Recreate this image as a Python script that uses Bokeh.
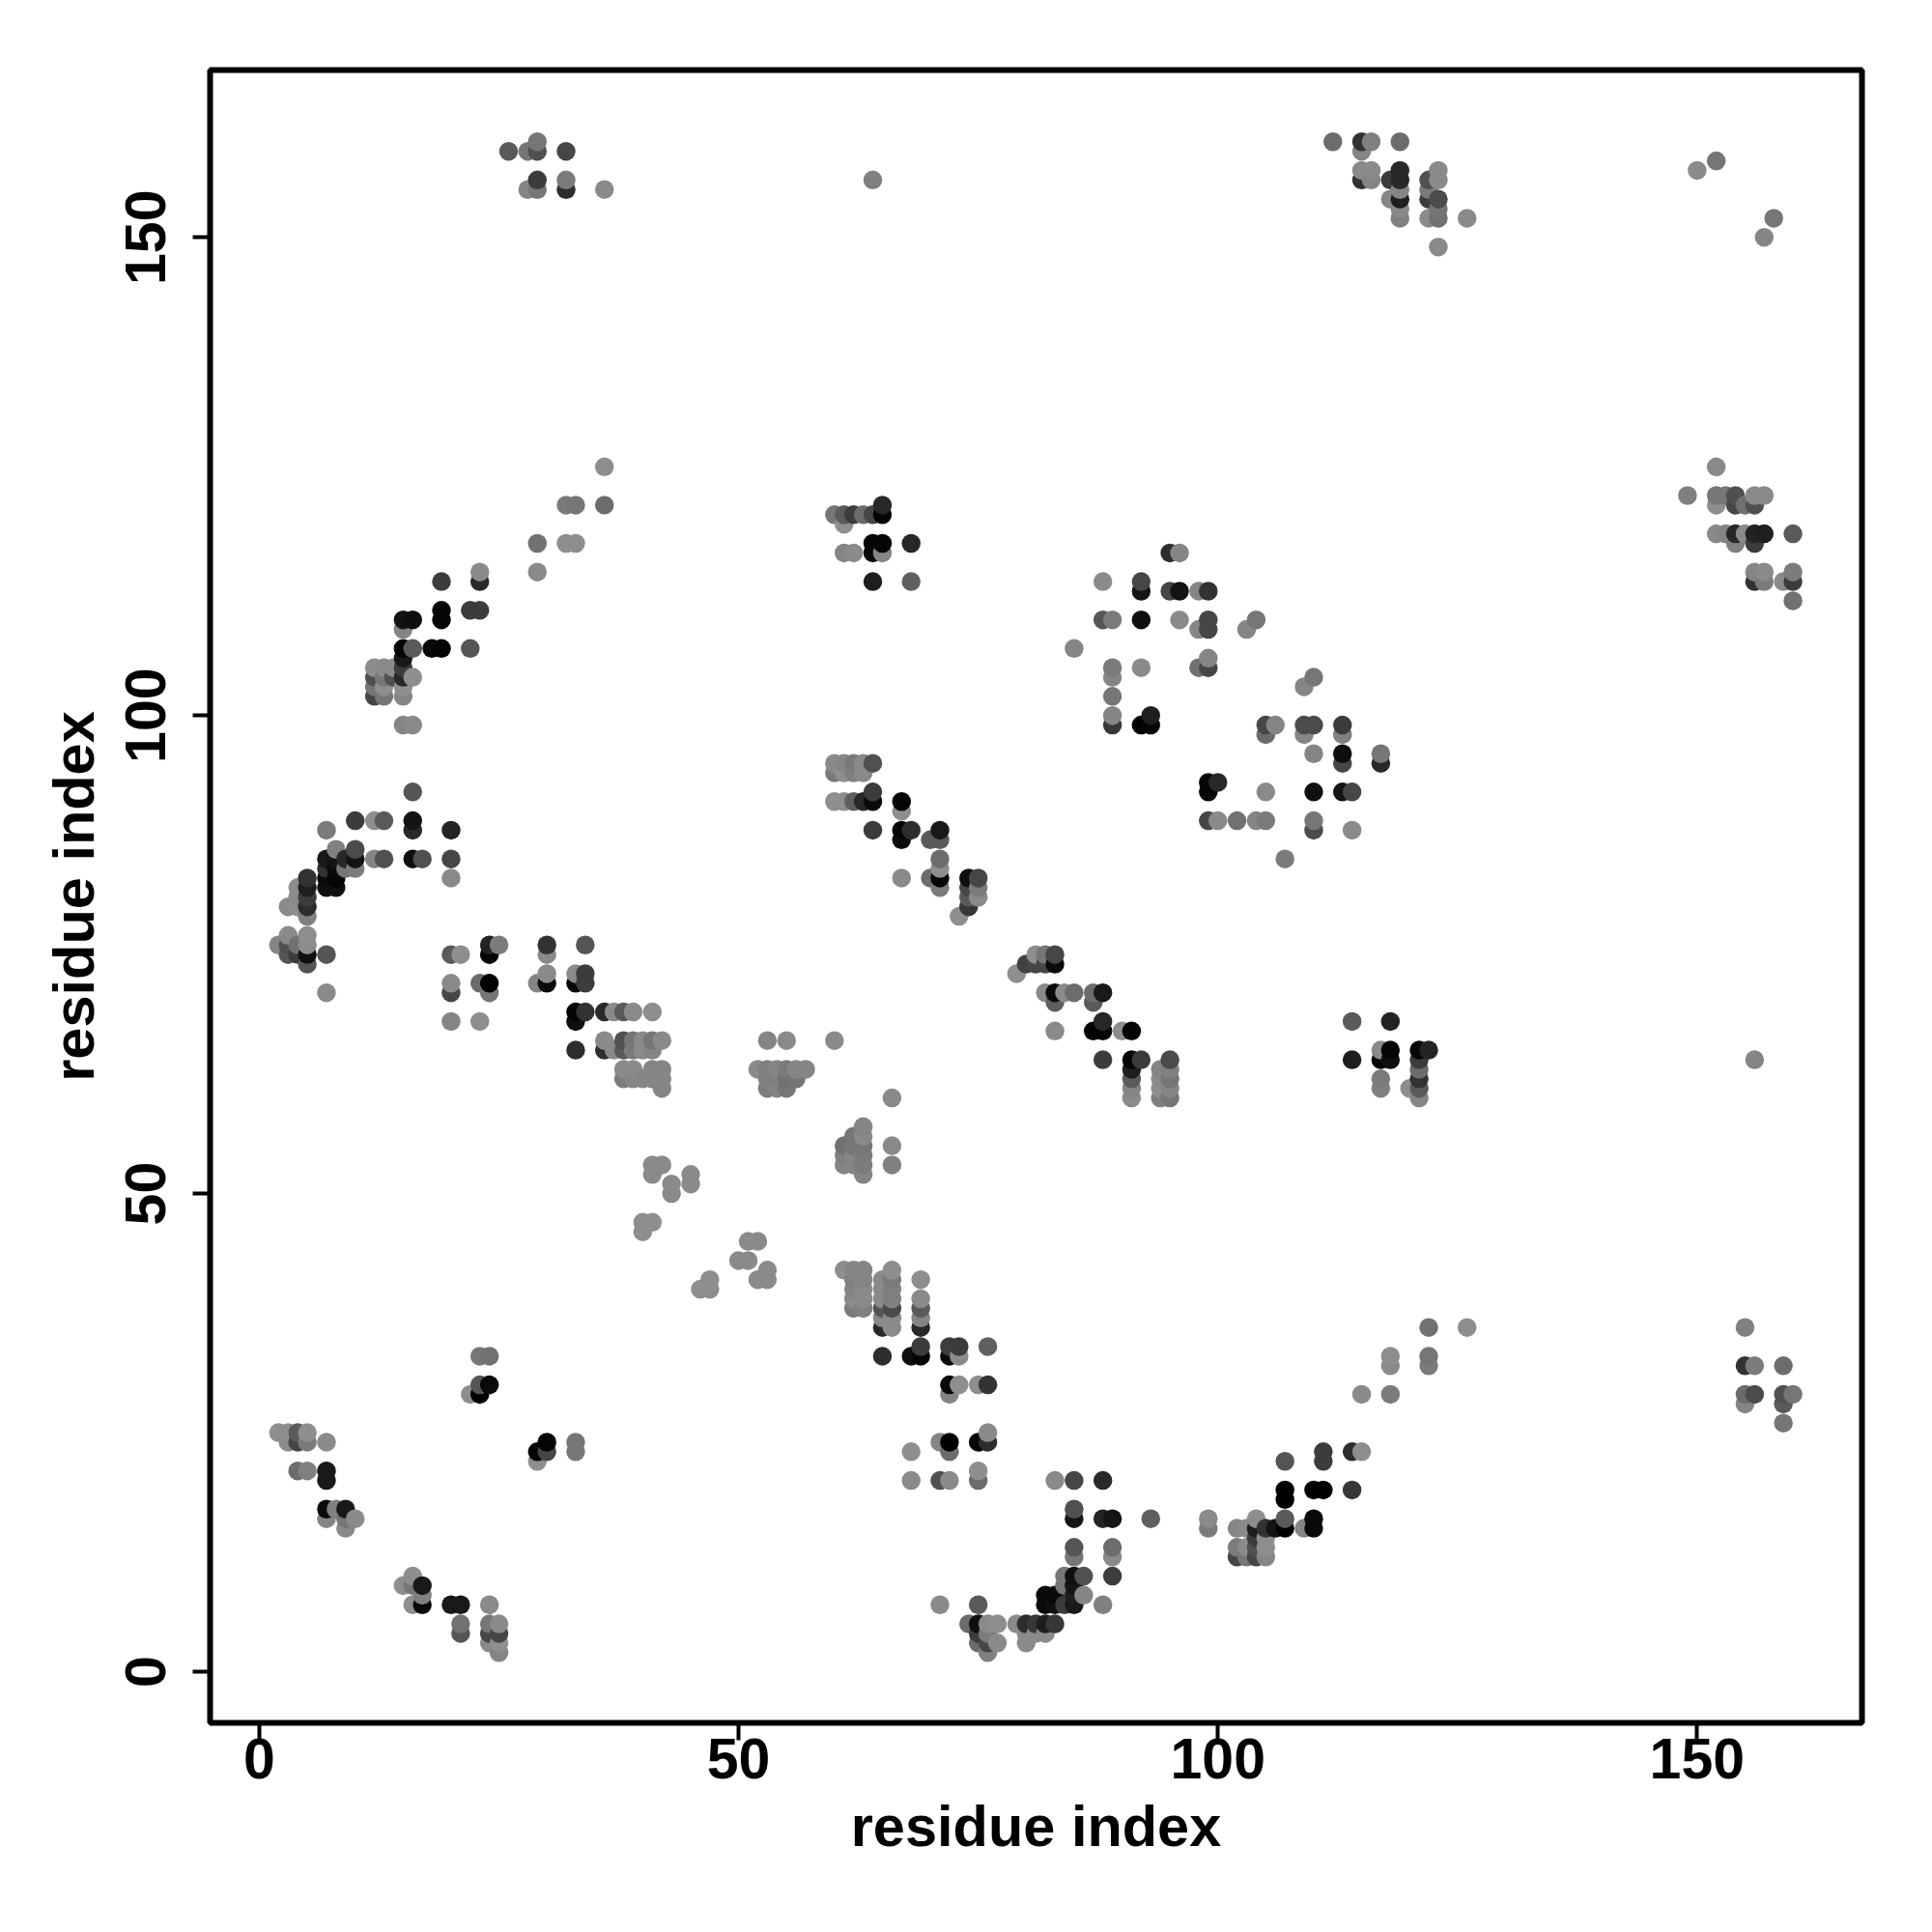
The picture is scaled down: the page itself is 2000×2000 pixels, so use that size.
from bokeh.plotting import figure
from bokeh.models import ColumnDataSource, Range1d, FixedTicker
from bokeh.embed import file_html
from bokeh.resources import INLINE

AXIS_LABEL = "residue index"
TICKS = [0, 50, 100, 150]

# contacts as (residue i, residue j, grey level), by region of the map
south_west = [
 (2,25,140),(3,25,135),(4,25,90),(5,25,135),(3,24,130),(4,24,70),(5,24,115),(7,24,130),
 (4,21,100),(5,21,120),(7,21,25),(7,20,25),(7,17,10),(8,17,120),(9,17,25),(7,16,125),(9,16,110),(10,16,130),(9,15,130),
 (16,10,140),(15,9,140),(16,9,110),(17,9,25),(17,8,120),(16,7,135),(17,7,10),(20,7,25),(21,7,25),(24,7,130),
 (21,5,105),(24,5,110),(25,5,130),(21,4,85),(24,4,70),(25,4,70),(24,3,130),(25,3,135),(25,2,125),
 (23,33,110),(24,33,105),(23,30,85),(24,30,10),(22,29,135),(23,29,0),
 (30,24,5),(33,24,110),(29,23,5),(30,23,70),(33,23,110),(29,22,135),
 (40,47,135),(41,47,135),(40,46,135),(47,41,135),(46,40,135),(47,40,135),
 (51,45,130),(52,45,130),(50,43,130),(51,43,130),(53,42,130),(52,41,130),(53,41,130),
]
south_mid = [
 (61,42,135),(62,42,125),(63,42,125),(62,41,120),(63,41,125),(62,40,125),(63,40,130),(62,39,130),(63,39,130),(62,38,115),(63,38,120),
 (65,41,130),(65,40,130),(65,39,130),(65,38,85),(65,37,130),(65,36,40),
 (66,42,135),(66,41,115),(66,40,120),(66,39,120),(66,38,75),(66,37,130),(66,36,130),
 (69,41,135),(69,39,130),(69,38,90),(69,37,125),(69,36,40),
 (69,34,60),(72,34,60),(73,34,60),(76,34,95),(65,33,45),(68,33,15),(69,33,5),(72,33,10),(73,33,130),
 (72,30,10),(73,30,135),(75,30,140),(76,30,50),(72,29,125),
 (71,24,125),(72,24,0),(75,24,5),(76,24,45),(76,25,130),(68,23,135),(72,23,100),
 (68,20,130),(71,20,80),(72,20,130),(75,20,100),(75,21,135),
 (83,20,130),(85,20,70),(88,20,40),(85,17,80),(85,16,20),(88,16,35),(89,16,20),(93,16,95),
 (85,13,85),(89,13,100),(85,12,110),(89,12,130),(84,10,110),(85,10,15),(86,10,80),(89,10,60),(84,9,110),(85,9,20),
 (82,8,10),(83,8,10),(85,8,30),(86,8,125),(82,7,10),(83,7,15),(84,7,60),(85,7,25),(88,7,120),(71,7,130),(75,7,90),
 (74,5,100),(75,5,15),(76,5,130),(77,5,135),(79,5,130),(80,5,45),(81,5,55),(82,5,30),(83,5,55),
 (75,4,60),(76,4,115),(80,4,130),(81,4,130),(82,4,130),(75,3,100),(76,3,70),(77,3,130),(80,3,130),(76,2,120),
]
south_east = [
 (122,36,105),(126,36,135),(155,36,120),(118,33,135),(122,33,110),(118,32,130),(122,32,115),(155,32,50),(156,32,115),(159,32,100),
 (115,29,130),(118,29,115),(155,29,100),(156,29,75),(159,29,80),(160,29,110),(155,28,125),(159,28,90),(159,26,110),
 (111,23,60),(114,23,45),(115,23,135),(107,22,85),(111,22,60),(107,19,0),(110,19,0),(111,19,0),(114,19,55),(107,18,0),
 (99,16,130),(104,16,135),(107,16,90),(110,16,10),(99,15,115),(102,15,125),(103,15,130),(104,15,30),(105,15,50),(106,15,20),(107,15,0),(109,15,125),(110,15,10),
 (104,14,60),(105,14,135),(102,13,115),(103,13,130),(104,13,80),(105,13,135),(102,12,70),(103,12,110),(104,12,70),(105,12,125),
]
west_mid = [
 (16,92,85),(10,89,60),(12,89,140),(13,89,90),(16,89,20),(7,88,115),(16,88,40),(20,88,35),(8,86,120),(10,86,75),
 (7,85,25),(8,85,20),(9,85,40),(10,85,20),(12,85,125),(13,85,80),(16,85,15),(17,85,80),(20,85,70),
 (7,84,50),(8,84,10),(9,84,110),(10,84,115),(7,83,10),(8,83,5),(20,83,130),(7,82,15),(8,82,15),
 (5,83,50),(5,82,30),(5,81,60),(5,80,45),(5,79,120),(4,82,135),(4,81,130),(3,80,130),(4,80,135),
 (3,77,130),(5,77,135),(2,76,125),(3,76,80),(4,76,105),(5,76,130),(3,75,85),(4,75,60),(5,75,15),(7,75,85),(5,74,85),(7,71,130),
 (24,76,35),(25,76,115),(30,76,50),(34,76,85),(20,75,90),(21,75,135),(24,75,5),(30,75,130),
 (20,72,130),(23,72,100),(24,72,0),(29,72,125),(30,72,10),(33,72,5),(34,72,60),(30,73,130),(33,73,130),(34,73,60),(20,71,70),(24,71,110),
 (33,69,5),(34,69,50),(36,69,40),(37,69,130),(38,69,90),(39,69,130),(41,69,135),(20,68,125),(23,68,135),(33,68,15),
]
centre = [
 (36,66,130),(38,66,80),(39,66,110),(40,66,130),(41,66,110),(42,66,130),(53,66,125),(55,66,130),(60,66,130),
 (33,65,45),(36,65,45),(37,65,130),(38,65,90),(39,65,115),(40,65,130),(41,65,125),
 (38,63,130),(39,63,130),(41,63,125),(42,63,125),(52,63,130),(53,63,120),(54,63,125),(55,63,115),(56,63,125),(57,63,125),
 (38,62,115),(39,62,125),(40,62,125),(41,62,125),(42,62,125),(53,62,120),(54,62,120),(55,62,105),(56,62,110),
 (42,61,125),(53,61,115),(54,61,125),(55,61,110),
 (66,60,130),(63,57,125),(62,56,110),(63,56,130),(61,55,105),(62,55,110),(63,55,110),(66,55,130),
 (61,54,120),(62,54,125),(63,54,115),(61,53,125),(62,53,125),(63,53,115),(66,53,120),(63,52,125),
 (41,53,130),(42,53,130),(41,52,130),(45,52,130),(45,51,130),(43,51,130),(43,50,130),
]
diagonal = [
 (60,95,130),(61,95,125),(62,95,115),(63,95,130),(64,95,80),(60,94,115),(61,94,135),(62,94,120),(63,94,130),(64,92,60),
 (60,91,135),(61,91,135),(62,91,95),(63,91,40),(64,91,10),(67,91,5),(67,90,135),
 (64,88,60),(67,88,5),(68,88,45),(71,88,25),(67,87,10),(70,87,90),(71,87,90),(71,85,100),(71,84,135),
 (67,83,130),(70,83,100),(71,83,5),(74,83,15),(75,83,70),(71,82,115),(74,82,70),(75,82,115),(74,81,90),(75,81,130),(74,80,55),(73,79,135),
 (99,93,5),(100,93,40),(99,92,5),(99,89,70),(100,89,130),
 (81,75,135),(82,75,110),(83,75,70),(80,74,65),(81,74,70),(82,74,70),(83,74,10),(79,73,135),
 (82,71,130),(83,71,10),(84,71,130),(85,71,100),(87,71,100),(88,71,25),(83,70,95),(87,70,90),(88,68,40),
 (83,67,130),(87,67,5),(88,67,5),(90,67,135),(91,67,5),(88,64,60),(91,64,5),(92,64,60),(95,64,75),
 (91,63,30),(94,63,125),(95,63,120),(91,62,90),(94,62,130),(95,62,110),(91,61,125),(94,61,135),(95,61,125),(91,60,130),(94,60,120),(95,60,110),
 (114,68,90),(118,68,35),(117,65,130),(118,65,5),(121,65,5),(122,65,35),(114,64,30),(117,64,5),(118,64,15),(121,64,60),(156,64,125),
 (121,63,100),(117,62,115),(121,62,50),(117,61,120),(120,61,135),(121,61,90),(121,60,125),
]
north_west = [
 (36,126,135),(32,122,115),(33,122,110),(36,122,100),(29,118,105),(32,118,135),(33,118,135),(29,115,130),(23,115,130),(19,114,60),(23,114,40),
 (19,111,5),(22,111,60),(23,111,60),(15,110,20),(16,110,15),(19,110,5),(15,109,125),(15,107,5),(16,107,90),(18,107,10),(19,107,5),(22,107,85),(15,106,25),
 (12,105,135),(13,105,130),(14,105,130),(15,105,60),(12,104,80),(13,104,110),(14,104,80),(15,104,40),(16,104,135),
 (12,103,110),(13,103,135),(15,103,135),(12,102,70),(13,102,110),(15,102,125),(15,99,125),(16,99,130),
]
north_mid = [
 (65,122,40),(60,121,110),(61,121,90),(62,121,60),(63,121,100),(64,121,70),(65,121,5),(61,120,135),
 (64,118,5),(65,118,5),(68,118,40),(61,117,125),(62,117,130),(64,117,10),(65,117,125),(64,114,30),(68,114,95),
 (95,117,45),(96,117,125),(88,114,130),(92,114,70),(92,113,20),(95,113,70),(96,113,20),(98,113,125),(99,113,50),
 (88,110,85),(89,110,115),(92,110,15),(96,110,130),(99,110,70),(104,110,110),(98,109,125),(99,109,70),(103,109,125),(85,107,125),
 (99,106,125),(89,105,115),(92,105,130),(98,105,105),(99,105,70),(89,104,125),(110,104,110),(109,103,125),(89,102,110),
 (89,100,125),(93,100,30),(89,99,55),(92,99,0),(93,99,5),(105,99,70),(106,99,125),(109,99,75),(110,99,75),(113,99,60),
 (105,98,100),(109,98,125),(113,98,120),(110,96,125),(113,96,15),(117,96,110),(113,95,70),(117,95,40),
 (105,92,130),(110,92,15),(113,92,20),(114,92,70),(102,89,105),(104,89,125),(105,89,115),(110,89,110),(110,88,75),(114,88,130),(107,85,115),
]
north_east = [
 (152,126,130),(149,123,120),(152,123,110),(153,123,110),(154,123,80),(156,123,130),(157,123,130),(152,122,135),(154,122,70),(155,122,105),(156,122,80),
 (152,119,130),(153,119,125),(154,119,40),(155,119,130),(156,119,35),(157,119,30),(160,119,90),(154,118,120),(156,118,60),
 (156,115,125),(157,115,130),(160,115,115),(156,114,50),(157,114,115),(159,114,130),(160,114,60),(160,112,105),
]
top = [
 (26,159,90),(28,159,110),(29,160,110),(29,159,80),(32,159,70),(29,156,60),(32,156,115),(28,155,125),(29,155,110),(32,155,45),(36,155,130),(64,156,120),
 (112,160,100),(115,160,50),(116,160,120),(119,160,100),(115,159,125),(115,157,130),(116,157,130),(119,157,40),(123,157,130),
 (115,156,50),(116,156,125),(118,156,60),(119,156,40),(122,156,80),(123,156,130),(119,155,125),(122,155,115),
 (118,154,125),(119,154,30),(122,154,60),(123,154,75),(119,153,130),(123,153,110),(119,152,120),(122,152,130),(123,152,105),(126,152,130),(123,149,130),
 (150,157,130),(152,158,110),(158,152,110),(157,150,125),
]

contacts = sorted(south_west + south_mid + south_east + west_mid + centre + diagonal
                  + north_west + north_mid + north_east + top, key=lambda c: (c[0], c[1]))
residue_i = [c[0] for c in contacts]
residue_j = [c[1] for c in contacts]
colour = ["#{0:02x}{0:02x}{0:02x}".format(min(c[2] + 8, 142) if c[2] >= 100 else c[2])
          for c in contacts]

source = ColumnDataSource(dict(x=residue_i, y=residue_j, c=colour))

p = figure(width=1992, height=1992, output_backend="svg", toolbar_location=None,
           x_range=Range1d(-5.14, 167.2), y_range=Range1d(-5.35, 167.5),
           frame_width=1710, frame_height=1711,
           min_border_left=217, min_border_right=65, min_border_top=72, min_border_bottom=209,
           background_fill_color="white", border_fill_color="white")
p.scatter("x", "y", source=source, size=19.5, fill_color="c", line_color=None)

p.grid.visible = False
p.outline_line_color = "black"
p.outline_line_width = 6

for ax, orient, tick_gap, label_gap in ((p.xaxis[0], "horizontal", -2, 13), (p.yaxis[0], "vertical", 28, 18)):
    ax.ticker = FixedTicker(ticks=TICKS)
    ax.axis_label = AXIS_LABEL
    ax.axis_line_color = None
    ax.major_tick_line_color = "black"
    ax.major_tick_line_width = 4
    ax.major_tick_out = 18
    ax.major_tick_in = 0
    ax.minor_tick_line_color = None
    ax.major_label_orientation = orient
    ax.major_label_text_font = "Liberation Sans"
    ax.major_label_text_font_style = "bold"
    ax.major_label_text_font_size = "59px"
    ax.major_label_text_color = "black"
    ax.major_label_standoff = tick_gap
    ax.axis_label_text_font = "Liberation Sans"
    ax.axis_label_text_font_style = "bold"
    ax.axis_label_text_font_size = "59.5px"
    ax.axis_label_text_color = "black"
    ax.axis_label_standoff = label_gap

open("out.html", "w").write(file_html(p, INLINE))
